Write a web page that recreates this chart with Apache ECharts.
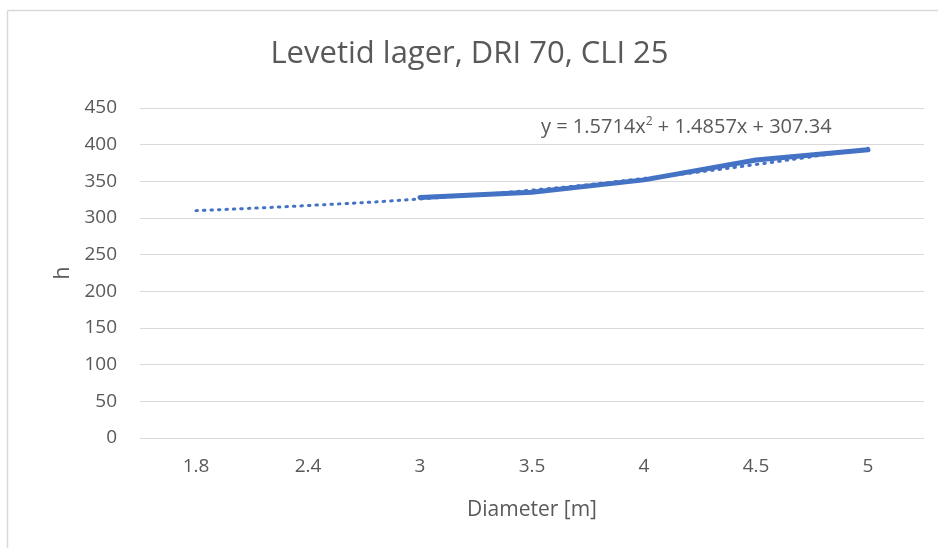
<!DOCTYPE html>
<html>
<head>
<meta charset="utf-8">
<script src="https://cdn.jsdelivr.net/npm/echarts@6/dist/echarts.min.js"></script>
<style>html,body{margin:0;padding:0;background:#fff;}#c{width:939px;height:548px;}</style>
</head>
<body>
<div id="c"></div>
<script>
const categories = ['1.8', '2.4', '3', '3.5', '4', '4.5', '5'];
const lifeValues = [null, null, 328, 335, 352, 379, 393];
const trendValues = [310, 317, 326, 338, 354, 373, 395];
const yTicks = [0, 50, 100, 150, 200, 250, 300, 350, 400, 450];
const titleText = 'Levetid lager, DRI 70, CLI 25';
const xName = 'Diameter [m]';
const yName = 'h';

const FONT = 'Open Sans';
const chart = echarts.init(document.getElementById('c'));
chart.setOption({
  animation: false,
  backgroundColor: '#fff',
  title: {
    text: titleText, left: 'center', top: 34,
    textStyle: { fontFamily: FONT, fontSize: 31, fontWeight: 'normal', color: '#595959' }
  },
  grid: { left: 140, right: 15, top: 108, bottom: 110, containLabel: false },
  xAxis: {
    type: 'category', data: categories, boundaryGap: true,
    name: xName, nameLocation: 'middle', nameGap: 62,
    nameTextStyle: { fontFamily: FONT, fontSize: 21, color: '#595959' },
    axisLine: { show: true, lineStyle: { color: '#d9d9d9', width: 1 } },
    axisTick: { show: false },
    axisLabel: { fontFamily: FONT, fontSize: 19, color: '#595959', margin: 19 }
  },
  yAxis: {
    type: 'value', min: yTicks[0], max: yTicks[yTicks.length - 1], interval: 50,
    name: yName, nameLocation: 'middle', nameGap: 66,
    nameTextStyle: { fontFamily: FONT, fontSize: 21, color: '#595959' },
    axisLine: { show: false }, axisTick: { show: false },
    axisLabel: { fontFamily: FONT, fontSize: 19, color: '#595959', margin: 23 },
    splitLine: { lineStyle: { color: '#d9d9d9', width: 1 } }
  },
  series: [
    {
      type: 'line', data: trendValues, smooth: true, symbol: 'none',
      lineStyle: { color: '#4472c4', width: 3, type: [1.5, 6], cap: 'round' },
      z: 2
    },
    {
      type: 'line', data: lifeValues, symbol: 'none', connectNulls: false,
      lineStyle: { color: '#4472c4', width: 5, cap: 'round', join: 'round' },
      z: 3
    }
  ],
  graphic: [
    { type: 'line', shape: { x1: 7.5, y1: 10.5, x2: 938, y2: 10.5 }, style: { stroke: '#d9d9d9', lineWidth: 1.5 } },
    { type: 'line', shape: { x1: 7.5, y1: 10.5, x2: 7.5, y2: 548 }, style: { stroke: '#d9d9d9', lineWidth: 1.5 } },
    {
      type: 'text', left: 541, top: 116,
      style: {
        text: '{a|y = 1.5714x}{s|2}{a| + 1.4857x + 307.34}',
        rich: {
          a: { fontFamily: FONT, fontSize: 20, fill: '#595959', color: '#595959' },
          s: { fontFamily: FONT, fontSize: 12, fill: '#595959', color: '#595959', verticalAlign: 'top', padding: [0, 0, 10, 0] }
        }
      }
    }
  ]
});
</script>
</body>
</html>
